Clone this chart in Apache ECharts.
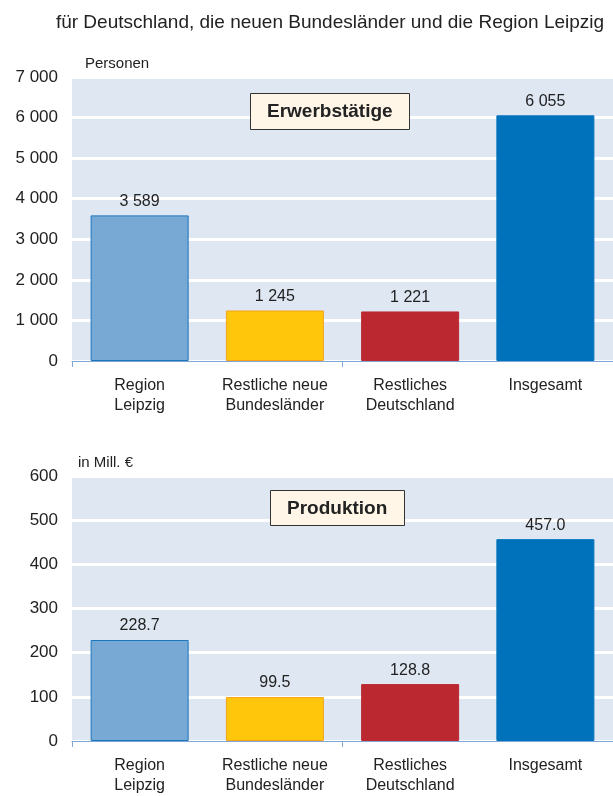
<!DOCTYPE html>
<html><head><meta charset="utf-8">
<script src="https://cdn.jsdelivr.net/npm/echarts@6/dist/echarts.min.js"></script>
<style>html,body{margin:0;padding:0;background:#fff}#c{width:613px;height:796px}</style>
</head><body><div id="c"></div>
<script>
const categories = ['Region\nLeipzig', 'Restliche neue\nBundesländer', 'Restliches\nDeutschland', 'Insgesamt'];
const erwerbstaetige = [3589, 1245, 1221, 6055];
const produktion = [228.7, 99.5, 128.8, 457.0];
const yTicksTop = [0, 1000, 2000, 3000, 4000, 5000, 6000, 7000];
const yTicksBottom = [0, 100, 200, 300, 400, 500, 600];
const barColors = ['#78a9d4', '#ffc60b', '#bb2830', '#0072bc'];
const barBorders = ['#1a75bc', '#f5a31a', '#bb2830', '#0072bc'];

const FONT = 'Liberation Sans, Arial, sans-serif';
const fmtThousands = v => String(Math.round(v)).replace(/\B(?=(\d{3})+(?!\d))/g, ' ');

function mkData(vals) {
  return vals.map((v, i) => ({value: v, itemStyle: {color: barColors[i], borderColor: barBorders[i], borderWidth: 1}}));
}
function xAxis(gi) {
  return {
    type: 'category', gridIndex: gi, data: categories,
    axisLine: {show: true, lineStyle: {color: '#7fa8d8', width: 1}},
    axisTick: {show: true, interval: idx => idx % 2 === 0, length: 6, lineStyle: {color: '#7fa8d8'}},
    axisLabel: {interval: 0, color: '#222', fontSize: 16, fontFamily: FONT, lineHeight: 20, margin: 15}
  };
}
function yAxis(gi, max, interval, fmt) {
  return {
    type: 'value', gridIndex: gi, min: 0, max: max, interval: interval,
    axisLine: {show: false}, axisTick: {show: false},
    axisLabel: {color: '#222', fontSize: 17, fontFamily: FONT, margin: 14, formatter: fmt},
    splitLine: {show: true, lineStyle: {color: '#ffffff', width: 3}}
  };
}
const chart = echarts.init(document.getElementById('c'), null, {renderer: 'canvas'});
chart.setOption({
  animation: false,
  title: [
    {text: 'für Deutschland, die neuen Bundesländer und die Region Leipzig', left: 330, textAlign: 'center', top: 13, padding: 0,
     textStyle: {fontSize: 19, fontWeight: 'normal', color: '#222', fontFamily: FONT}},
    {text: 'Erwerbstätige', left: 250, top: 93, padding: [9, 17, 9, 17], backgroundColor: '#fff6e8', borderColor: '#333', borderWidth: 1,
     textStyle: {fontSize: 19, fontWeight: 'bold', color: '#222', fontFamily: FONT}},
    {text: 'Produktion', left: 270, top: 490, padding: [9, 17, 8, 17], backgroundColor: '#fff6e8', borderColor: '#333', borderWidth: 1,
     textStyle: {fontSize: 19, fontWeight: 'bold', color: '#222', fontFamily: FONT}},
    {text: 'Personen', left: 85, top: 56, padding: 0, textStyle: {fontSize: 15, fontWeight: 'normal', color: '#222', fontFamily: FONT}},
    {text: 'in Mill. €', left: 78, top: 455, padding: 0, textStyle: {fontSize: 15, fontWeight: 'normal', color: '#222', fontFamily: FONT}}
  ],
  grid: [
    {left: 72, right: 0, top: 77, height: 284, show: true, backgroundColor: '#dfe7f3', borderWidth: 0},
    {left: 72, right: 0, top: 476, height: 266, show: true, backgroundColor: '#dfe7f3', borderWidth: 0}
  ],
  xAxis: [xAxis(0), xAxis(1)],
  yAxis: [
    yAxis(0, yTicksTop[yTicksTop.length - 1], yTicksTop[1] - yTicksTop[0], v => fmtThousands(v)),
    yAxis(1, yTicksBottom[yTicksBottom.length - 1], yTicksBottom[1] - yTicksBottom[0], v => String(v))
  ],
  series: [
    {type: 'bar', xAxisIndex: 0, yAxisIndex: 0, barWidth: 98, data: mkData(erwerbstaetige),
     label: {show: true, position: 'top', distance: 6, color: '#222', fontSize: 16, fontFamily: FONT, formatter: p => fmtThousands(p.value)}},
    {type: 'bar', xAxisIndex: 1, yAxisIndex: 1, barWidth: 98, data: mkData(produktion),
     label: {show: true, position: 'top', distance: 6, color: '#222', fontSize: 16, fontFamily: FONT, formatter: p => p.value.toFixed(1)}}
  ]
});
</script></body></html>
